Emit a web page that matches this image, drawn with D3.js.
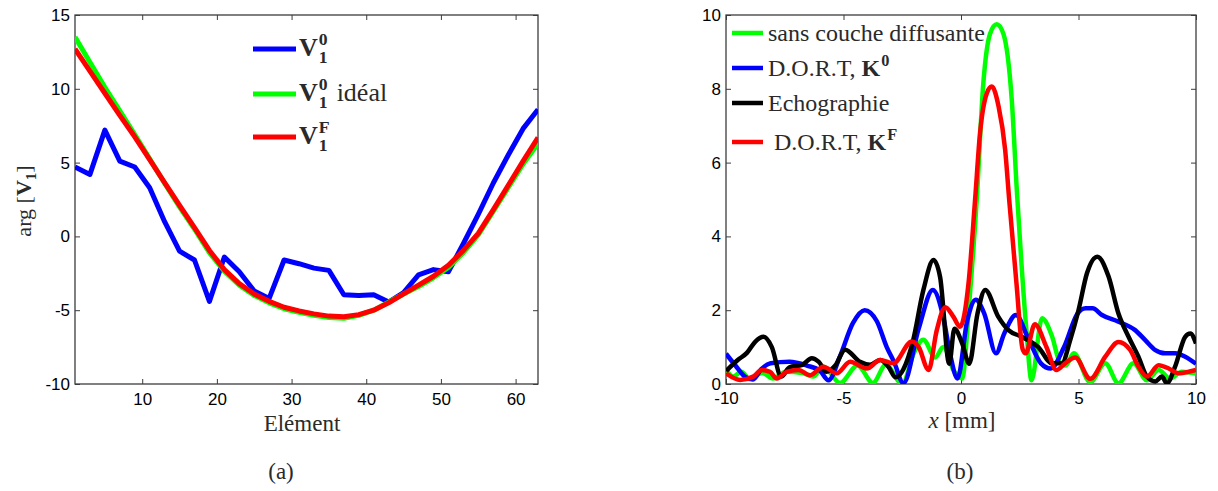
<!DOCTYPE html>
<html><head><meta charset="utf-8">
<script src="https://cdn.jsdelivr.net/npm/d3@7"></script>
<style>body{margin:0;background:#fff}svg{display:block}</style>
</head><body>
<svg id="c" width="1218" height="491"></svg>
<script>
// ---------- Panel (a) data ----------
const elements = [1,3,5,7,9,11,13,15,17,19,21,23,25,27,29,31,33,35,37,39,41,43,45,47,49,51,53,55,57,59,61,63];
const v10 = [4.7,4.2,7.2,5.1,4.7,3.3,1.0,-1.0,-1.6,-4.4,-1.4,-2.4,-3.7,-4.2,-1.6,-1.85,-2.15,-2.3,-3.95,-4.0,-3.95,-4.45,-3.8,-2.6,-2.25,-2.4,-0.5,1.5,3.6,5.5,7.3,8.6];
const v10ideal = [13.5,11.8,10.1,8.5,6.9,5.25,3.6,2.0,0.5,-1.1,-2.35,-3.3,-4.0,-4.5,-4.9,-5.15,-5.35,-5.5,-5.55,-5.35,-5.0,-4.45,-3.9,-3.4,-2.8,-2.1,-1.1,0.1,1.7,3.3,4.9,6.3];
const v1F = [12.7,11.2,9.7,8.2,6.75,5.2,3.65,2.1,0.6,-0.95,-2.25,-3.2,-3.9,-4.4,-4.8,-5.05,-5.25,-5.4,-5.45,-5.3,-5.0,-4.5,-3.9,-3.3,-2.7,-1.95,-0.95,0.2,1.8,3.45,5.1,6.7];
const aXTicks = [10,20,30,40,50,60];
const aYTicks = [-10,-5,0,5,10,15];

// ---------- Panel (b) data : [x (mm), amplitude] ----------
const sansCouche = [[-10,0.4],[-9.7,0.2],[-9.35,0.33],[-9.0,0.15],[-8.45,0.3],[-8.0,0.15],[-7.45,0.33],[-6.75,0.3],[-6.3,0.2],[-5.85,0.47],[-5.15,0.03],[-4.4,0.5],[-3.75,0.03],[-3.2,0.52],[-2.5,0.0],[-2.0,0.85],[-1.6,1.2],[-1.1,0.72],[-0.75,1.0],[-0.3,0.35],[0.05,0.15],[0.35,2.2],[0.67,5.0],[0.95,8.15],[1.24,9.5],[1.52,9.75],[1.8,9.5],[2.16,7.7],[2.38,5.2],[2.58,3.2],[2.79,1.4],[3.0,0.1],[3.45,1.78],[3.87,1.3],[4.2,0.6],[4.45,0.5],[4.8,0.83],[5.5,0.05],[6.14,0.56],[6.7,0.02],[7.34,0.56],[7.91,0.1],[8.41,0.38],[8.9,0.15],[9.4,0.33],[10,0.28]];
const dortK0 = [[-10,0.82],[-9.6,0.5],[-9.2,0.2],[-8.85,0.12],[-8.5,0.4],[-8.1,0.56],[-7.3,0.6],[-6.56,0.5],[-6.0,0.36],[-5.64,0.1],[-5.15,0.75],[-4.6,1.65],[-4.1,2.0],[-3.58,1.7],[-3.16,1.0],[-2.85,0.6],[-2.45,0.02],[-1.8,1.5],[-1.2,2.55],[-0.75,1.8],[-0.46,0.8],[-0.15,0.15],[0.27,1.73],[0.63,2.28],[0.99,1.91],[1.49,0.83],[1.84,1.37],[2.34,1.87],[2.83,1.28],[3.4,0.56],[3.82,0.42],[4.39,1.01],[4.96,1.91],[5.3,2.05],[5.6,2.05],[6.0,1.87],[6.7,1.69],[7.41,1.46],[7.84,1.19],[8.27,0.92],[8.69,0.83],[9.11,0.83],[9.54,0.74],[10,0.55]];
const echographie = [[-10,0.35],[-9.5,0.65],[-9.1,0.85],[-8.75,1.15],[-8.4,1.28],[-8.05,1.0],[-7.65,0.2],[-7.3,0.45],[-6.75,0.52],[-6.35,0.7],[-6.05,0.6],[-5.72,0.33],[-5.35,0.5],[-4.93,0.93],[-4.3,0.6],[-3.87,0.52],[-3.44,0.65],[-3.09,0.47],[-2.78,0.18],[-2.45,0.4],[-2.05,1.15],[-1.6,2.55],[-1.17,3.36],[-0.89,2.9],[-0.5,0.55],[-0.28,1.5],[0.05,1.1],[0.35,0.55],[0.7,1.9],[1.03,2.55],[1.59,1.82],[2.02,1.46],[2.58,1.28],[3.29,1.0],[3.87,0.56],[4.29,0.56],[4.65,1.2],[5.0,2.0],[5.36,3.0],[5.8,3.45],[6.28,2.91],[6.7,1.91],[7.13,1.28],[7.55,0.74],[7.91,0.2],[8.27,0.07],[8.55,0.2],[8.76,0.02],[9.11,0.47],[9.54,1.28],[9.76,1.37],[10,1.1]];
const dortKF = [[-10,0.29],[-9.4,0.11],[-8.84,0.2],[-8.48,0.38],[-8.13,0.33],[-7.84,0.15],[-7.42,0.33],[-6.92,0.38],[-6.42,0.24],[-5.86,0.47],[-5.29,0.29],[-4.72,0.6],[-4.01,0.42],[-3.44,0.65],[-2.88,0.56],[-2.09,1.15],[-1.8,1.0],[-1.38,0.38],[-1.03,1.46],[-0.67,2.08],[-0.32,1.82],[-0.04,1.55],[0.32,2.73],[0.6,5.0],[0.81,6.8],[1.1,7.88],[1.31,8.06],[1.6,7.52],[1.88,6.34],[2.05,5.0],[2.36,2.73],[2.62,0.95],[2.75,0.83],[3.14,1.62],[3.63,1.01],[4.06,0.38],[4.43,0.56],[4.86,0.72],[5.5,0.14],[6.14,0.74],[6.7,1.14],[7.2,0.92],[7.55,0.47],[7.91,0.2],[8.41,0.51],[8.84,0.42],[9.26,0.29],[9.69,0.33],[10,0.38]];
const bXTicks = [-10,-5,0,5,10];
const bYTicks = [0,2,4,6,8,10];

// ---------- drawing ----------
const svg = d3.select("#c");
const SERIF = "'Liberation Serif','Times New Roman',serif";
const SANS = "'Liberation Sans',Arial,sans-serif";
const AX = "#3c3c3c";
const TXT = "#2a2a2a";
const fmt = d => String(d);

function panel(id, box, xDom, yDom, xT, yT, padX) {
  const x = d3.scaleLinear().domain(xDom).range([box.l, box.r]);
  const y = d3.scaleLinear().domain(yDom).range([box.b, box.t]);
  const g = svg.append("g");
  g.append("clipPath").attr("id", id).append("rect")
    .attr("x", box.l).attr("y", box.t).attr("width", box.r - box.l).attr("height", box.b - box.t);
  const style = s => s.call(a => a.select(".domain").remove())
    .call(a => a.selectAll("line").attr("stroke", AX).attr("stroke-width", 1))
    .call(a => a.selectAll("text").attr("font-family", SANS).attr("font-size", 17).attr("fill", "#000"));
  g.append("g").attr("transform", `translate(0,${box.b})`)
    .call(d3.axisBottom(x).tickValues(xT).tickFormat(fmt).tickSizeInner(-5).tickSizeOuter(0).tickPadding(padX)).call(style);
  g.append("g").attr("transform", `translate(0,${box.t})`)
    .call(d3.axisTop(x).tickValues(xT).tickSizeInner(-5).tickSizeOuter(0).tickFormat("")).call(style);
  g.append("g").attr("transform", `translate(${box.l},0)`)
    .call(d3.axisLeft(y).tickValues(yT).tickFormat(fmt).tickSizeInner(-5).tickSizeOuter(0).tickPadding(5)).call(style);
  g.append("g").attr("transform", `translate(${box.r},0)`)
    .call(d3.axisRight(y).tickValues(yT).tickSizeInner(-5).tickSizeOuter(0).tickFormat("")).call(style);
  g.append("rect").attr("x", box.l).attr("y", box.t).attr("width", box.r - box.l).attr("height", box.b - box.t)
    .attr("fill", "none").attr("stroke", AX).attr("stroke-width", 1.3);
  const lines = g.append("g").attr("clip-path", `url(#${id})`);
  return {x, y, g, lines};
}

// bold V/K with superscript and/or subscript
function sym(g, x, y, letter, sup, sub, fs, color) {
  const t = g.append("text").attr("x", x).attr("y", y).attr("font-family", SERIF)
    .attr("font-weight", "bold").attr("font-size", fs).attr("fill", color || TXT).text(letter);
  const w = t.node().getComputedTextLength();
  let ww = 0;
  if (sup) {
    const s = g.append("text").attr("x", x + w + 1).attr("y", y - fs * 0.42).attr("font-family", SERIF)
      .attr("font-weight", "bold").attr("font-size", fs * 0.68).attr("fill", color || TXT).text(sup);
    ww = Math.max(ww, s.node().getComputedTextLength());
  }
  if (sub) {
    const s = g.append("text").attr("x", x + w + 1).attr("y", y + fs * 0.28).attr("font-family", SERIF)
      .attr("font-weight", "bold").attr("font-size", fs * 0.68).attr("fill", color || TXT).text(sub);
    ww = Math.max(ww, s.node().getComputedTextLength());
  }
  return x + w + 1 + ww;
}

// ---- Panel (a)
const A = panel("clipA", {l: 75, r: 538, t: 15, b: 384}, [1, 63], [-10, 15], aXTicks, aYTicks, 9);
const lineA = vals => d3.line().x((d, i) => A.x(elements[i])).y(d => A.y(d))(vals);
[[v10, "#0000ff"], [v10ideal, "#00ff00"], [v1F, "#ff0000"]].forEach(([v, c]) => {
  A.lines.append("path").attr("d", lineA(v)).attr("fill", "none").attr("stroke", c)
    .attr("stroke-width", 5).attr("stroke-linejoin", "round");
});
// legend (a)
const legA = svg.append("g");
[["#0000ff", 49, ""], ["#00ff00", 94, "idéal"], ["#ff0000", 137, ""]].forEach(([c, yy, rest], i) => {
  legA.append("line").attr("x1", 253).attr("x2", 296).attr("y1", yy).attr("y2", yy)
    .attr("stroke", c).attr("stroke-width", 5);
  const end = sym(legA, 299, yy + 7, "V", i === 2 ? "F" : "0", "1", 26);
  if (rest) legA.append("text").attr("x", end + 9).attr("y", yy + 7).attr("font-family", SERIF)
    .attr("font-size", 26).attr("fill", TXT).text(rest);
});
// axis labels (a)
const yl = svg.append("text").attr("transform", "translate(31,201) rotate(-90)")
  .attr("text-anchor", "middle").attr("font-family", SERIF).attr("font-size", 22).attr("fill", TXT);
yl.append("tspan").text("arg [");
yl.append("tspan").attr("font-weight", "bold").text("V");
yl.append("tspan").attr("font-weight", "bold").attr("font-size", 15).attr("dy", 5).text("1");
yl.append("tspan").attr("dy", -5).text("]");
svg.append("text").attr("x", 302).attr("y", 431).attr("text-anchor", "middle").attr("font-family", SERIF)
  .attr("font-size", 23).attr("fill", TXT).text("Elément");
svg.append("text").attr("x", 281).attr("y", 479).attr("text-anchor", "middle").attr("font-family", SERIF)
  .attr("font-size", 23).attr("fill", TXT).text("(a)");

// ---- Panel (b)
const B = panel("clipB", {l: 726, r: 1196, t: 15, b: 384}, [-10, 10], [0, 10], bXTicks, bYTicks, 8);
const lineB = d3.line().x(d => B.x(d[0])).y(d => B.y(d[1])).curve(d3.curveMonotoneX);
[[sansCouche, "#00ff00"], [dortK0, "#0000ff"], [echographie, "#000000"], [dortKF, "#ff0000"]].forEach(([v, c]) => {
  B.lines.append("path").attr("d", lineB(v)).attr("fill", "none").attr("stroke", c)
    .attr("stroke-width", 4.5).attr("stroke-linejoin", "round");
});
// legend (b)
const legB = svg.append("g");
const rowsB = [["#00ff00", 33], ["#0000ff", 68], ["#000000", 103], ["#ff0000", 142]];
rowsB.forEach(([c, yy]) => legB.append("line").attr("x1", 732).attr("x2", 763).attr("y1", yy).attr("y2", yy)
  .attr("stroke", c).attr("stroke-width", 4.5));
const FSB = 24;
const tB = (x, y, s) => legB.append("text").attr("x", x).attr("y", y).attr("font-family", SERIF)
  .attr("font-size", FSB).attr("fill", TXT).attr("xml:space", "preserve").text(s);
tB(768, 41, "sans couche diffusante");
let t1 = tB(768, 76, "D.O.R.T, ");
sym(legB, 768 + t1.node().getComputedTextLength(), 76, "K", "0", null, FSB);
tB(768, 111, "Echographie");
let t2 = tB(768, 150, " D.O.R.T, ");
sym(legB, 768 + t2.node().getComputedTextLength(), 150, "K", "F", null, FSB);
// axis labels (b)
const xl = svg.append("text").attr("x", 962).attr("y", 428).attr("text-anchor", "middle").attr("font-family", SERIF)
  .attr("font-size", 23).attr("fill", TXT).attr("xml:space", "preserve");
xl.append("tspan").attr("font-style", "italic").text("x");
xl.append("tspan").text(" [mm]");
svg.append("text").attr("x", 960).attr("y", 479).attr("text-anchor", "middle").attr("font-family", SERIF)
  .attr("font-size", 23).attr("fill", TXT).text("(b)");
</script>
</body></html>
